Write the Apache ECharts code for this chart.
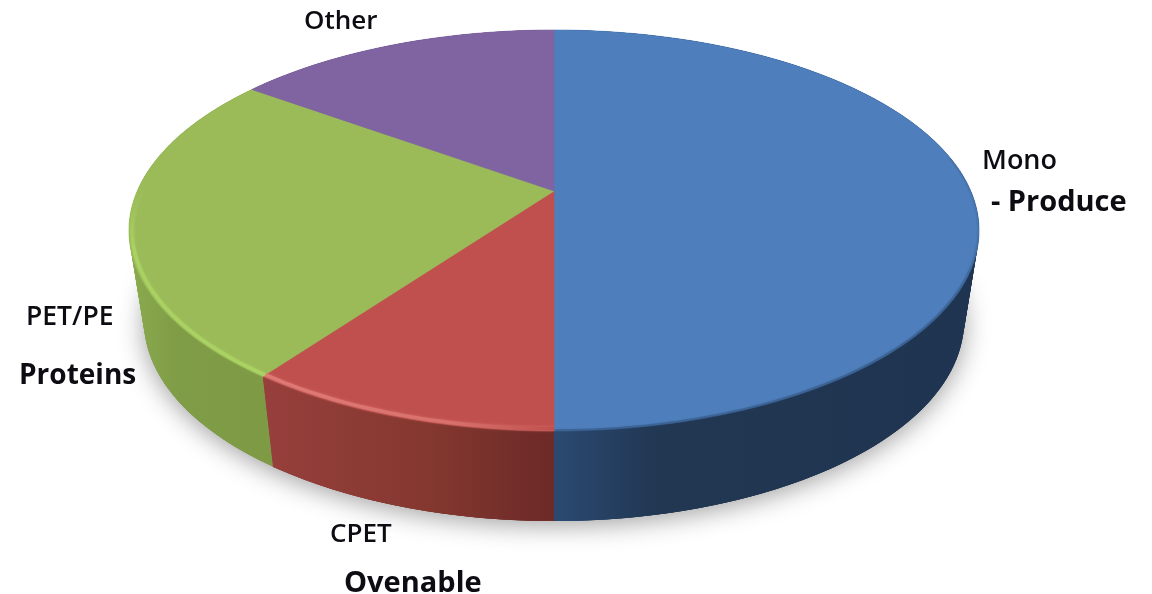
<!DOCTYPE html>
<html>
<head>
<meta charset="utf-8">
<style>html,body{margin:0;padding:0;background:#fff}#c{width:1152px;height:594px}</style>
<script src="https://cdn.jsdelivr.net/npm/echarts@6/dist/echarts.min.js"></script>
</head>
<body>
<div id="c"></div>
<script>
// ---- data ----
const categories = ['Mono', 'CPET', 'PET/PE', 'Other'];
const subLabels = ['- Produce', 'Ovenable', 'Proteins', ''];
const values = [50, 10, 25, 15];

// ---- styles ----
const topColors = ['#4e7fbc', '#c0504d', '#9bbb59', '#8064a2'];
const sideStops = [
  [[0, '#2b4972'], [0.25, '#213752'], [1, '#1f3450']],
  [[0, '#973f3c'], [0.55, '#85382f'], [1, '#6c2a28']],
  [[0, '#8bab4f'], [0.35, '#7f9c46'], [1, '#7e9a44']],
  [[0, '#5f4a79'], [1, '#5f4a79']]
];

// ---- projection of the disc (perspective) ----
const c = -0.197, cx = 554;
const topFace = { A: 155.1, B: 191, D: 416.7 };
const baseFace = { A: 136.8, B: 281.6, D: 402 };
function project(face, deg, k) {
  const t = deg * Math.PI / 180, r = k === undefined ? 1 : k;
  const u = r * Math.sin(t), v = -r * Math.cos(t), w = 1 + c * v;
  return [cx + face.D * u / w, (face.A * v + face.B) / w];
}
const total = values.reduce((a, b) => a + b, 0);
function range(i) {
  let s = 0;
  for (let j = 0; j < i; j++) s += values[j];
  return [s / total * 360, (s + values[i]) / total * 360];
}
function arc(face, a0, a1, k) {
  const pts = [], n = Math.max(2, Math.ceil(Math.abs(a1 - a0)));
  for (let i = 0; i <= n; i++) pts.push(project(face, a0 + (a1 - a0) * i / n, k));
  return pts;
}
const LG = echarts.graphic.LinearGradient;

function renderShadow() {
  return {
    type: 'polygon',
    shape: { points: arc(baseFace, 0, 360) },
    style: { fill: '#999', shadowBlur: 26, shadowColor: 'rgba(0,0,0,0.38)', shadowOffsetY: 4, shadowOffsetX: 0 }
  };
}
function renderSide(params) {
  const i = params.dataIndex, r = range(i);
  const T = arc(topFace, r[0], r[1]), B = arc(baseFace, r[0], r[1]);
  const xs = T.concat(B).map(p => p[0]);
  const x0 = Math.min.apply(null, xs), x1 = Math.max.apply(null, xs);
  const stops = sideStops[i].map(s => ({ offset: s[0], color: s[1] }));
  const fill = new LG(x0, 0, x1, 0, stops, true);
  const children = [];
  // each strip overlaps the next so no seams show between them
  for (let k = 0; k < T.length - 1; k++) {
    const e = Math.min(k + 3, T.length - 1);
    children.push({
      type: 'polygon',
      shape: { points: [T[k], T[e], B[e], B[k]] },
      style: { fill: fill }
    });
  }
  return { type: 'group', children: children };
}
function renderTop(params) {
  const i = params.dataIndex, r = range(i);
  const pts = [project(topFace, 0, 0)].concat(arc(topFace, r[0], r[1]));
  return {
    type: 'polygon',
    shape: { points: pts },
    style: { fill: topColors[i], stroke: topColors[i], lineWidth: 0.6 }
  };
}
function renderRim(params) {
  const i = params.dataIndex, r = range(i);
  if (i === 0) {
    const p = arc(topFace, 80, 180, 0.998);
    return {
      type: 'polyline',
      shape: { points: p },
      style: {
        fill: null, lineWidth: 2.5, shadowBlur: 3, shadowColor: 'rgba(38,66,104,0.35)',
        stroke: new LG(0, 235, 0, 300, [
          { offset: 0, color: 'rgba(38,66,104,0.12)' }, { offset: 1, color: 'rgba(38,66,104,0.4)' }
        ], true)
      }
    };
  }
  if (i === 1) {
    const p = arc(topFace, r[0], r[1], 0.992);
    return {
      type: 'polyline',
      shape: { points: p },
      style: {
        fill: null, lineWidth: 3.5, shadowBlur: 3, shadowColor: 'rgba(222,120,115,0.6)',
        stroke: new LG(p[p.length - 1][0], 0, p[0][0], 0, [
          { offset: 0, color: '#de7a75' }, { offset: 0.65, color: '#d8716c' }, { offset: 1, color: '#c0504d' }
        ], true)
      }
    };
  }
  if (i === 2) {
    const p = arc(topFace, r[0], r[0] + 54, 0.993);
    return {
      type: 'polyline',
      shape: { points: p },
      style: {
        fill: null, lineWidth: 3.5, shadowBlur: 3, shadowColor: 'rgba(170,210,99,0.6)',
        stroke: new LG(0, 195, 0, 250, [
          { offset: 0, color: '#9bbb59' }, { offset: 1, color: '#aad263' }
        ], true)
      }
    };
  }
  return { type: 'group', children: [] };
}

const text = (t, x, y, size, weight) => ({
  type: 'text', left: x, top: y, silent: true, z: 10,
  style: { text: t, font: weight + ' ' + size + 'px "Open Sans", Lato, sans-serif', fill: '#0c0c12' }
});

const data = values.map((v, i) => ({ name: categories[i], value: v }));
const chart = echarts.init(document.getElementById('c'), null, { renderer: 'canvas' });
chart.setOption({
  animation: false,
  backgroundColor: '#fff',
  series: [
    { type: 'custom', coordinateSystem: 'none', z: 1, silent: true, data: [0], renderItem: renderShadow },
    { type: 'custom', coordinateSystem: 'none', z: 2, silent: true, data: data, renderItem: renderSide },
    { type: 'custom', coordinateSystem: 'none', z: 3, silent: true, data: data, renderItem: renderTop },
    { type: 'custom', coordinateSystem: 'none', z: 4, silent: true, data: data, renderItem: renderRim }
  ],
  graphic: [
    text(categories[0], 982, 148, 27, 600),
    text(subLabels[0], 991, 188, 29, 700),
    text(categories[1], 330, 522, 26, 600),
    text(subLabels[1], 344, 569, 29, 700),
    text(categories[2], 26, 304, 26.5, 600),
    text(subLabels[2], 19, 362, 28, 700),
    text(categories[3], 304, 9, 26, 600)
  ]
});
</script>
</body>
</html>
